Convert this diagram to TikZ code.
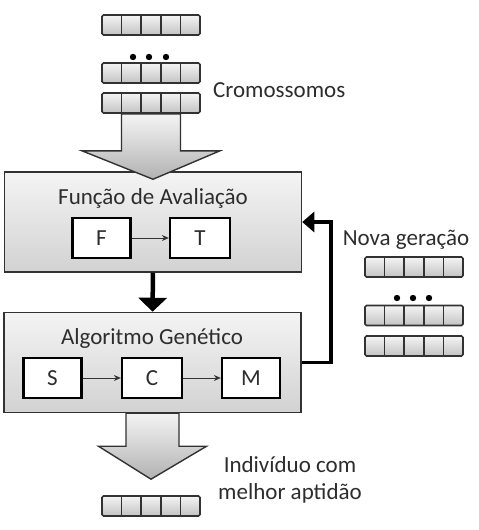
\documentclass[tikz,border=0pt]{standalone}
\usepackage{fontspec}
\setmainfont{Carlito}
\usepackage{tikz}
\usetikzlibrary{arrows.meta,positioning,calc}
\definecolor{cinzaborda}{RGB}{50,50,50}
\definecolor{cinzatexto}{RGB}{45,45,45}
\definecolor{cinzaclaro}{RGB}{244,244,244}
\definecolor{cinzamedio}{RGB}{210,210,210}
\definecolor{cinzacelula}{RGB}{195,195,195}
\definecolor{cinzaseta}{RGB}{178,178,178}

\begin{document}
\begin{tikzpicture}[x=1pt,y=-1pt,
    font=\fontsize{23}{27}\selectfont,
    crom/.style={draw=cinzaborda, line width=1.6pt, rounded corners=1.5pt,
      top color=cinzaclaro, bottom color=cinzacelula,
      minimum width=98pt, minimum height=20pt, inner sep=0pt,
      path picture={\foreach \k in {1,...,4}
        \draw[cinzaborda, line width=1.6pt]
          ($(path picture bounding box.south west)!\k/5!(path picture bounding box.south east)$) --
          ($(path picture bounding box.north west)!\k/5!(path picture bounding box.north east)$);}},
    caixa/.style={draw=cinzaborda, line width=1.5pt,
      top color=cinzaclaro, bottom color=cinzamedio,
      minimum width=297pt, minimum height=100pt, inner sep=0pt},
    oper/.style={draw=black, line width=2.3pt, fill=white, text=cinzatexto,
      minimum width=58pt, minimum height=40pt, inner sep=0pt,
      font=\fontsize{23}{27}\selectfont},
    rotulo/.style={text=cinzatexto, inner sep=0pt},
    seta/.style={-{Stealth[length=7pt,width=6pt]}, line width=1pt, black!80},
    setagrossa/.style={-{Triangle[length=14pt,width=28pt]}, line width=4.5pt, black},
    setavolta/.style={-{Triangle[length=12pt,width=20pt]}, line width=3.8pt, black},
    blocoseta/.style={draw=cinzaborda, line width=1.4pt,
      top color=cinzaclaro, bottom color=cinzaseta}]

  \useasboundingbox (0,0) rectangle (479,530);

  % cromossomos de entrada
  \node[crom] (crom1) at (151,25) {};
  \node[crom] (crom2) at (151,73) {};
  \node[crom] (crom3) at (151,103) {};
  \foreach \x in {133,149,166} \fill (\x,57) circle (3.2pt);
  \node[rotulo, anchor=west] (lblcrom) at (213,90) {Cromossomos};

  % bloco da funcao de avaliacao
  \node[caixa] (aval) at (153,222) {};
  \node[rotulo] (titaval) at (153,198) {Função de Avaliação};
  \node[oper] (f) at (101.5,238) {F};
  \node[oper, minimum width=60pt] (t) at (200,238) {T};
  \draw[seta] (f) -- (t);

  % seta larga de entrada
  \draw[blocoseta] ([xshift=-29.5pt]crom3.south) -- ++(0,37) -- ++(-39.5,0)
    -- ([yshift=-8pt]aval.north) -- ($(crom3.south)+(69,37)$) -- ++(-39.5,0)
    -- ([xshift=29.5pt]crom3.south) -- cycle;

  % bloco do algoritmo genetico
  \node[caixa] (genet) at (152.5,362.5) {};
  \node[rotulo] (titgenet) at (152,338) {Algoritmo Genético};
  \node[oper] (s) at (52.5,378) {S};
  \node[oper, minimum width=60pt] (c) at (152,378) {C};
  \node[oper] (m) at (251,378) {M};
  \draw[seta] (s) -- (c);
  \draw[seta] (c) -- (m);

  \draw[setagrossa] (aval.south) -- (genet.north);
  \draw[setavolta] (genet.east) -- ++(29,0) |- (aval.east);

  % nova geracao
  \node[rotulo] (lblnova) at (406,240) {Nova geração};
  \node[crom] (nova1) at (414,267) {};
  \node[crom] (nova2) at (414,315.5) {};
  \node[crom] (nova3) at (414,346) {};
  \foreach \x in {397,413,429} \fill (\x,298) circle (3.2pt);

  % saida
  \node[crom] (melhor) at (151,506) {};
  \draw[blocoseta] ([xshift=-26.5pt]genet.south) -- ++(0,33) -- ++(-27.5,0)
    -- ([yshift=16pt]melhor.north) -- ($(genet.south)+(54,33)$) -- ++(-27.5,0)
    -- ([xshift=26.5pt]genet.south) -- cycle;
  \node[rotulo, align=center] (lblmelhor) at (290,480) {Indivíduo com\\melhor aptidão};
\end{tikzpicture}
\end{document}
